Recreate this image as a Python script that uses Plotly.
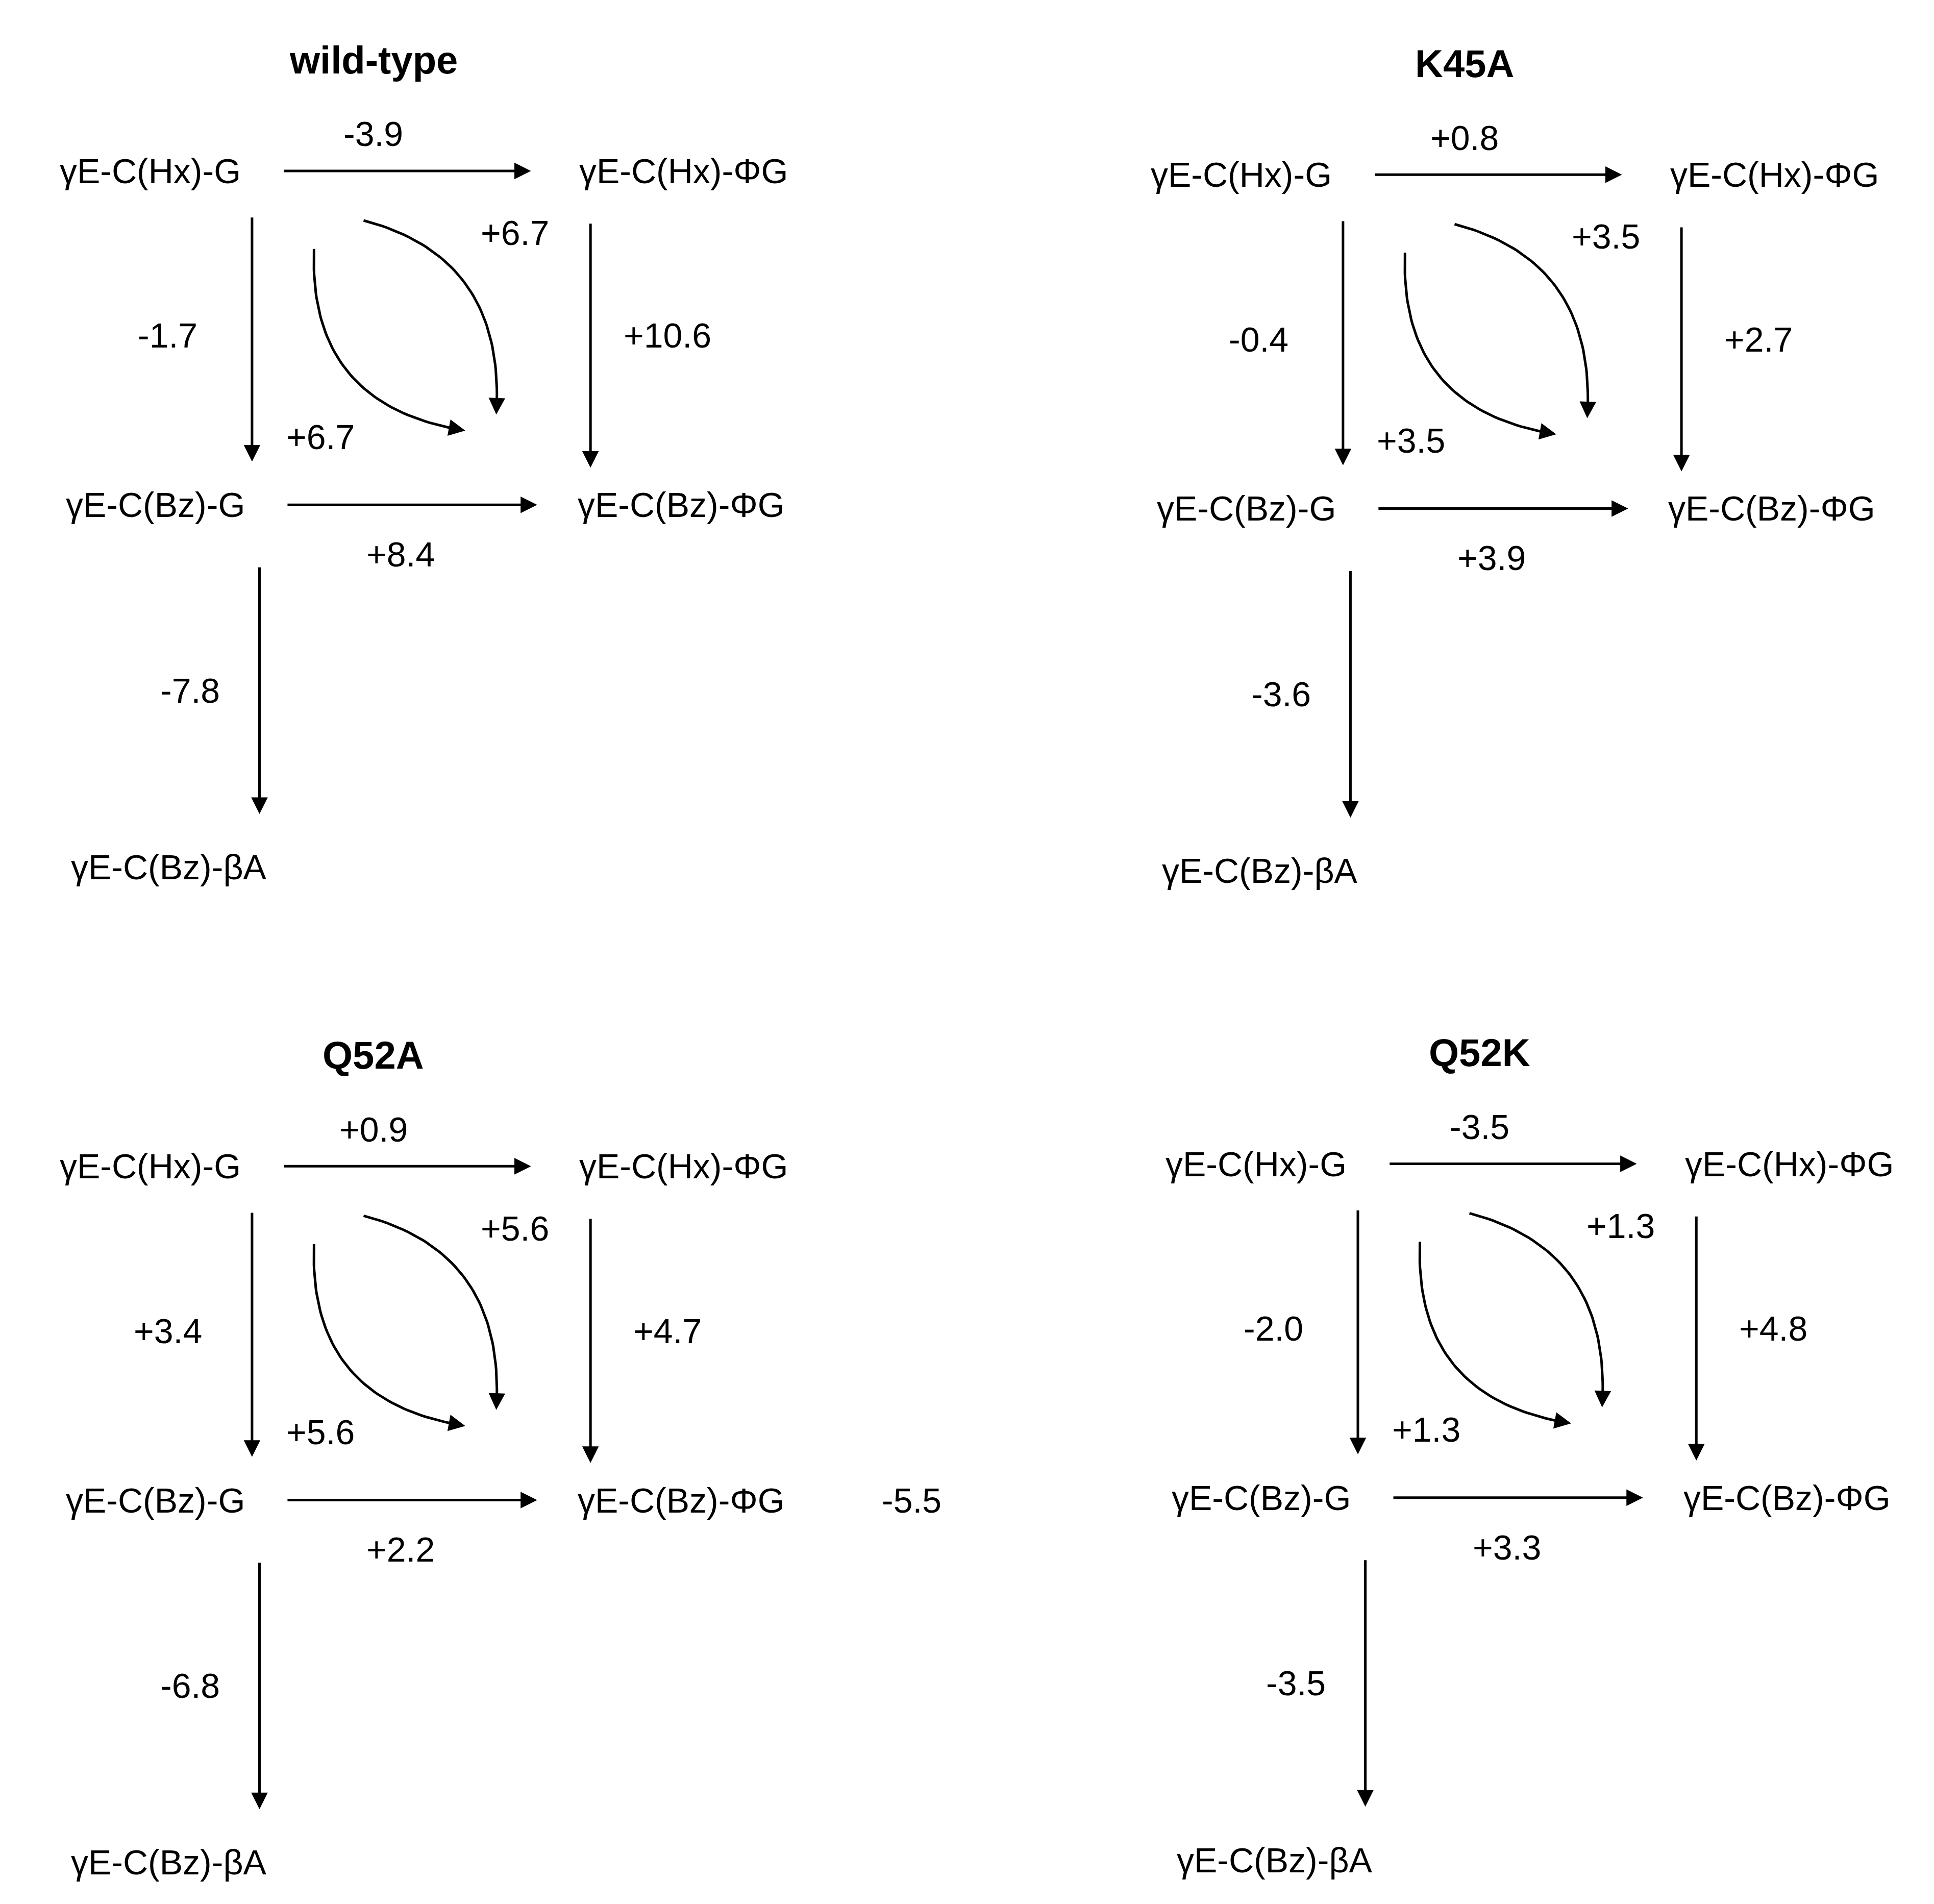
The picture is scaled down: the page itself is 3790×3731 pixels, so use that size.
import plotly.graph_objects as go
import numpy as np

titles = ["wild-type", "K45A", "Q52A", "Q52K"]
offsets = [(0, 0), (880, 3), (0, 805), (892, 803)]
top_vals = ["-3.9", "+0.8", "+0.9", "-3.5"]
left_vals = ["-1.7", "-0.4", "+3.4", "-2.0"]
right_vals = ["+10.6", "+2.7", "+4.7", "+4.8"]
diag_vals = ["+6.7", "+3.5", "+5.6", "+1.3"]
bottom_vals = ["+8.4", "+3.9", "+2.2", "+3.3"]
down_vals = ["-7.8", "-3.6", "-6.8", "-3.5"]
nodes = ["γE-C(Hx)-G", "γE-C(Hx)-ΦG", "γE-C(Bz)-G", "γE-C(Bz)-ΦG", "γE-C(Bz)-βA"]
extra_label = ("-5.5", 2)

W, H = 1560, 1540
FS = 68
fig = go.Figure()
ann = []

def txt(x, y, s, bold=False, size=FS):
    ann.append(dict(x=x, y=y, text=f"<b>{s}</b>" if bold else s, showarrow=False,
                    font=dict(size=size, color="black", family="Liberation Sans"),
                    xanchor="center", yanchor="middle"))

def arrow(x0, y0, x1, y1):
    ann.append(dict(x=x1, y=y1, ax=x0, ay=y0, xref="x", yref="y", axref="x", ayref="y",
                    showarrow=True, arrowhead=2, arrowsize=1.3, arrowwidth=5,
                    arrowcolor="black", text=""))

def curve(p0, c, p1):
    t = np.linspace(0, 1, 60)
    xs = (1-t)**2*p0[0] + 2*(1-t)*t*c[0] + t**2*p1[0]
    ys = (1-t)**2*p0[1] + 2*(1-t)*t*c[1] + t**2*p1[1]
    fig.add_trace(go.Scatter(x=xs[:-3], y=ys[:-3], mode="lines",
                             line=dict(color="black", width=5), hoverinfo="skip", showlegend=False))
    arrow(xs[-4], ys[-4], xs[-1], ys[-1])

for i, (dx, dy) in enumerate(offsets):
    txt(298+dx, 45+dy, titles[i], bold=True, size=76)
    pos = [(118, 135), (548, 135), (122, 405), (546, 405), (133, 698)]
    for n, (x, y) in zip(nodes, pos):
        txt(x+dx, y+dy, n)
    arrow(225+dx, 135+dy, 425+dx, 135+dy); txt(298+dx, 105+dy, top_vals[i])
    arrow(200+dx, 172+dy, 200+dx, 370+dy); txt(132+dx, 268+dy, left_vals[i])
    arrow(473+dx, 177+dy, 473+dx, 375+dy); txt(535+dx, 268+dy, right_vals[i])
    arrow(228+dx, 405+dy, 430+dx, 405+dy); txt(320+dx, 445+dy, bottom_vals[i])
    arrow(206+dx, 455+dy, 206+dx, 655+dy); txt(150+dx, 555+dy, down_vals[i])
    curve((250+dx, 198+dy), (245+dx, 325+dy), (372+dx, 345+dy))
    curve((290+dx, 175+dy), (405+dx, 205+dy), (397+dx, 332+dy))
    txt(255+dx, 350+dy, diag_vals[i]); txt(412+dx, 185+dy, diag_vals[i])
    if i == extra_label[1]:
        txt(732+dx, 405+dy, extra_label[0])

fig.update_layout(width=3790, height=3731, margin=dict(l=0, r=0, t=0, b=0),
                  plot_bgcolor="white", paper_bgcolor="white", annotations=ann,
                  xaxis=dict(range=[0, W], visible=False),
                  yaxis=dict(range=[H, 0], visible=False))
fig.write_html("out.html")
